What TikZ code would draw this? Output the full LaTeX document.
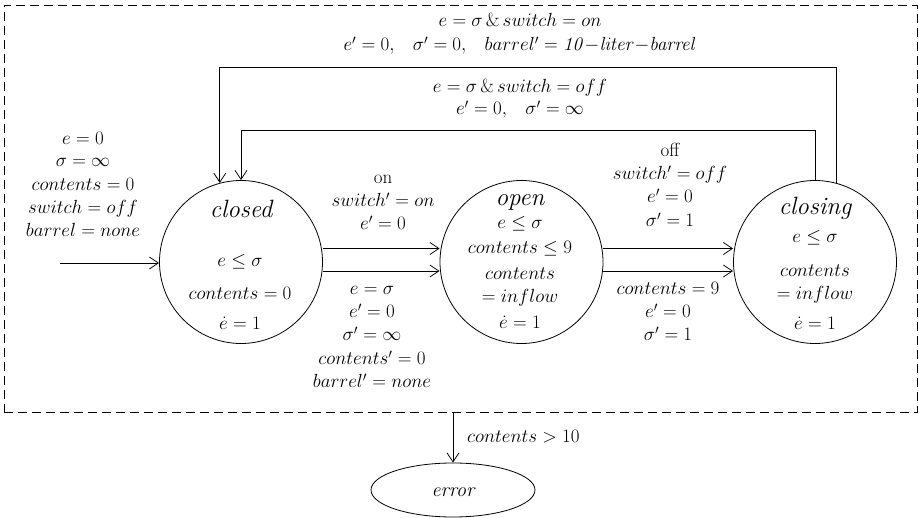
\RequirePackage{fix-cm}
\documentclass[tikz,border=0pt]{standalone}
\usepackage{amsmath}
\usetikzlibrary{arrows.meta,shapes.geometric}
\begin{document}
\begin{tikzpicture}[x=1pt,y=-1pt,
  arr/.style={-{Straight Barb[length=9pt,width=12pt]}, line width=0.8pt},
  state/.style={circle, draw, line width=0.8pt, minimum size=163pt, inner sep=0pt},
  lbl/.style={anchor=base, inner sep=0pt, font=\fontsize{19}{23}\selectfont},
  ttl/.style={anchor=base, inner sep=0pt, font=\fontsize{25}{28}\selectfont\itshape},
  frame/.style={draw, dash pattern=on 9pt off 5pt, line width=0.8pt, minimum width=913pt, minimum height=407pt, inner sep=0pt},
  errstate/.style={ellipse, draw, line width=0.8pt, minimum width=164pt, minimum height=54pt, inner sep=0pt}]
\useasboundingbox (0,0) rectangle (919,518);

% frame
\node[frame] (frame) at (460.5,208.5) {};

% states
\node[state] (closed) at (241,262) {};
\node[state] (open) at (521.5,262) {};
\node[state] (closing) at (815,262) {};
\node[errstate] (error) at (453,490) {};

% state texts
\node[ttl] (tclosed) at (241,218) {closed};
\node[lbl] (c1) at (240,267) {$e\le\sigma$};
\node[lbl] (c2) at (240,300) {$contents=0$};
\node[lbl] (c3) at (240,330) {$\dot e=1$};

\node[ttl] (topen) at (520,206) {open};
\node[lbl] (o1) at (520,229) {$e\le\sigma$};
\node[lbl] (o2) at (520,254) {$contents\le 9$};
\node[lbl] (o3) at (520,280) {$contents$};
\node[lbl] (o4) at (520,303) {$=inflow$};
\node[lbl] (o5) at (520,329) {$\dot e=1$};

\node[ttl] (tclosing) at (815,215) {closing};
\node[lbl] (s1) at (815,243) {$e\le\sigma$};
\node[lbl] (s2) at (815,277) {$contents$};
\node[lbl] (s3) at (815,300) {$=inflow$};
\node[lbl] (s4) at (815,330) {$\dot e=1$};

\node[anchor=base, inner sep=0pt, font=\fontsize{20}{24}\selectfont\itshape] (terror) at (453,497) {error};

% initial
\coordinate (init) at (60,263);
\draw[arr] (init) -- (closed.west |- init);
\node[lbl] (i1) at (83,145) {$e=0$};
\node[lbl] (i2) at (83,167) {$\sigma=\infty$};
\node[lbl] (i3) at (83,191) {$contents=0$};
\node[lbl] (i4) at (83,214) {$switch=off$};
\node[lbl] (i5) at (83,237) {$barrel=none$};

% closed -> open
\draw[arr] ([yshift=13.5pt]closed.east) -- ([yshift=13.5pt]open.west);
\draw[arr] ([yshift=-9pt]closed.east) -- ([yshift=-9pt]open.west);
\node[lbl] (a1) at (383,184) {on};
\node[lbl] (a2) at (383,207) {$switch'=on$};
\node[lbl] (a3) at (383,230) {$e'=0$};
\node[lbl] (b1) at (372,295) {$e=\sigma$};
\node[lbl] (b2) at (372,318) {$e'=0$};
\node[lbl] (b3) at (372,341) {$\sigma'=\infty$};
\node[lbl] (b4) at (372,365) {$contents'=0$};
\node[lbl] (b5) at (372,388) {$barrel'=none$};

% open -> closing
\draw[arr] ([yshift=13.5pt]open.east) -- ([yshift=13.5pt]closing.west);
\draw[arr] ([yshift=-9pt]open.east) -- ([yshift=-9pt]closing.west);
\node[lbl] (d1) at (670,157) {off};
\node[lbl] (d2) at (670,180) {$switch'=off$};
\node[lbl] (d3) at (670,203) {$e'=0$};
\node[lbl] (d4) at (670,227) {$\sigma'=1$};
\node[lbl] (f1) at (668,295) {$contents=9$};
\node[lbl] (f2) at (668,318) {$e'=0$};
\node[lbl] (f3) at (668,341) {$\sigma'=1$};

% loops
\coordinate (outer) at (836,67);
\coordinate (inner) at (816,130);
\draw[arr] (closing.75) -- (closing.75 |- outer) -| (closed.105);
\draw[arr] (closing.north) -- (closing.north |- inner) -| (closed.north);
\node[lbl] (g1) at (520,27) {$e=\sigma\,\&\,switch=on$};
\node[lbl] (g2) at (520,51) {$e'=0,\hspace{0.8em} \sigma'=0,\hspace{0.8em} barrel'=\mathit{10}{-}\mathit{liter}{-}\mathit{barrel}$};
\node[lbl] (h1) at (520,93) {$e=\sigma\,\&\,switch=off$};
\node[lbl] (h2) at (520,115) {$e'=0,\hspace{0.8em} \sigma'=\infty$};

% error
\draw[arr] (frame.south -| error.north) -- (error.north);
\node[lbl, anchor=base west] (e1) at (467,443) {$contents>10$};
\end{tikzpicture}
\end{document}
